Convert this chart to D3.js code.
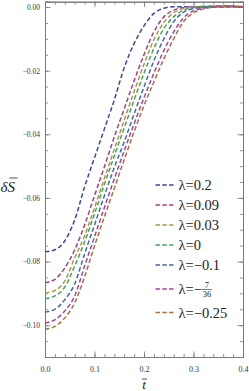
<!DOCTYPE html>
<html>
<head>
<meta charset="utf-8">
<script src="https://cdn.jsdelivr.net/npm/d3@7"></script>
<style>
body { margin: 0; background: #fff; }
svg { display: block; }
text { font-family: "Liberation Serif", "DejaVu Serif", serif; }
</style>
</head>
<body>
<svg id="chart"></svg>
<script>
// lambda values of the seven curves
var lambdas = ["0.2", "0.09", "0.03", "0", "\u22120.1", "\u22127/36", "\u22120.25"];
var colors = ["#4242a6", "#a8427a", "#a89a42", "#42a65a", "#426aa8", "#a842a0", "#a87042"];

// time samples and delta S, one pair per curve
var t_a = [0, 0.02, 0.04, 0.06, 0.08, 0.10, 0.12, 0.14, 0.16, 0.18, 0.20, 0.22, 0.24, 0.26, 0.28, 0.30, 0.34, 0.40];
var s_a = [-0.0769, -0.0763, -0.0735, -0.0669, -0.0565, -0.0474, -0.0383, -0.0292, -0.0191, -0.0115, -0.0059, -0.0020, -0.0004, 0.0001, 0.0001, 0.0000, 0, 0];

var t_b = [0, 0.02, 0.04, 0.06, 0.08, 0.10, 0.12, 0.14, 0.16, 0.18, 0.20, 0.22, 0.24, 0.26, 0.28, 0.30, 0.32, 0.36, 0.40];
var s_b = [-0.0866, -0.0856, -0.0820, -0.0763, -0.0685, -0.0593, -0.0502, -0.0408, -0.0320, -0.0232, -0.0150, -0.0078, -0.0031, -0.0010, -0.0002, 0.0001, 0.0002, 0.0001, 0];

var t_c = [0, 0.02, 0.04, 0.06, 0.08, 0.10, 0.12, 0.14, 0.16, 0.18, 0.20, 0.22, 0.24, 0.26, 0.28, 0.30, 0.32, 0.34, 0.37, 0.40];
var s_c = [-0.0899, -0.0891, -0.0861, -0.0788, -0.0719, -0.0631, -0.0538, -0.0447, -0.0356, -0.0266, -0.0180, -0.0103, -0.0049, -0.0018, -0.0005, -0.0001, 0.0002, 0.0003, 0.0002, 0];

var t_d = [0, 0.02, 0.04, 0.06, 0.08, 0.10, 0.12, 0.14, 0.16, 0.18, 0.20, 0.22, 0.24, 0.26, 0.28, 0.30, 0.32, 0.35, 0.40];
var s_d = [-0.0917, -0.0908, -0.0880, -0.0814, -0.0738, -0.0650, -0.0557, -0.0468, -0.0380, -0.0292, -0.0208, -0.0130, -0.0068, -0.0031, -0.0010, -0.0002, 0.0001, 0.0002, 0];

var t_e = [0, 0.02, 0.04, 0.06, 0.08, 0.10, 0.12, 0.14, 0.16, 0.18, 0.20, 0.22, 0.24, 0.26, 0.28, 0.30, 0.32, 0.34, 0.37, 0.40];
var s_e = [-0.0959, -0.0950, -0.0920, -0.0870, -0.0776, -0.0685, -0.0593, -0.0504, -0.0424, -0.0336, -0.0251, -0.0169, -0.0100, -0.0046, -0.0016, -0.0005, -0.0001, 0.0002, 0.0003, 0];

var t_f = [0, 0.02, 0.04, 0.06, 0.08, 0.10, 0.12, 0.14, 0.16, 0.18, 0.20, 0.22, 0.24, 0.26, 0.28, 0.30, 0.32, 0.34, 0.37, 0.40];
var s_f = [-0.0993, -0.0983, -0.0955, -0.0908, -0.0814, -0.0722, -0.0630, -0.0540, -0.0452, -0.0367, -0.0285, -0.0208, -0.0137, -0.0078, -0.0034, -0.0012, -0.0004, 0, 0.0003, 0.0001];

var t_g = [0, 0.02, 0.04, 0.06, 0.08, 0.10, 0.12, 0.14, 0.16, 0.18, 0.20, 0.22, 0.24, 0.26, 0.28, 0.30, 0.32, 0.34, 0.37, 0.40];
var s_g = [-0.1013, -0.1004, -0.0977, -0.0930, -0.0848, -0.0751, -0.0659, -0.0570, -0.0480, -0.0392, -0.0310, -0.0235, -0.0163, -0.0100, -0.0046, -0.0018, -0.0006, -0.0001, 0.0003, 0.0002];

var times = [t_a, t_b, t_c, t_d, t_e, t_f, t_g];
var values = [s_a, s_b, s_c, s_d, s_e, s_f, s_g];

var xTicks = [0, 0.1, 0.2, 0.3, 0.4];
var yTicks = [0, -0.02, -0.04, -0.06, -0.08, -0.10];

var width = 249, height = 391;
var mLeft = 45, mRight = 243, mTop = 1.7, mBottom = 357;

var svg = d3.select("#chart").attr("width", width).attr("height", height);

var x = d3.scaleLinear().domain([0, 0.4]).range([mLeft, mRight]);
var y = d3.scaleLinear().domain([-0.11, 0.00167]).range([mBottom, mTop]);

svg.append("clipPath").attr("id", "clip")
    .append("rect")
    .attr("x", mLeft).attr("y", mTop)
    .attr("width", mRight - mLeft).attr("height", mBottom - mTop);

// frame with ticks pointing inwards
var frame = "#7a7a7a";
var fmt = function (d) { return d3.format(".2f")(d).replace("-", "\u2212"); };
var xMinor = d3.range(0, 0.4001, 0.02);
var yMinor = d3.range(0, -0.1101, -0.005);

svg.append("g").attr("transform", "translate(0," + mBottom + ")")
    .call(d3.axisBottom(x).tickValues(xMinor).tickSize(-3).tickFormat(""));
svg.append("g").attr("class", "xlab").attr("transform", "translate(0," + mBottom + ")")
    .call(d3.axisBottom(x).tickValues(xTicks).tickSize(-5.5).tickPadding(9).tickFormat(d3.format(".1f")));
svg.append("g").attr("transform", "translate(0," + mTop + ")")
    .call(d3.axisTop(x).tickValues(xMinor).tickSize(-3).tickFormat(""));
svg.append("g").attr("transform", "translate(0," + mTop + ")")
    .call(d3.axisTop(x).tickValues(xTicks).tickSize(-5.5).tickFormat(""));

svg.append("g").attr("transform", "translate(" + mLeft + ",0)")
    .call(d3.axisLeft(y).tickValues(yMinor).tickSize(-3).tickFormat(""));
svg.append("g").attr("class", "ylab").attr("transform", "translate(" + mLeft + ",0)")
    .call(d3.axisLeft(y).tickValues(yTicks).tickSize(-5.5).tickPadding(5).tickFormat(fmt));
svg.append("g").attr("transform", "translate(" + mRight + ",0)")
    .call(d3.axisRight(y).tickValues(yMinor).tickSize(-3).tickFormat(""));
svg.append("g").attr("transform", "translate(" + mRight + ",0)")
    .call(d3.axisRight(y).tickValues(yTicks).tickSize(-5.5).tickFormat(""));

svg.selectAll(".domain").attr("stroke", frame).attr("stroke-width", 1);
svg.selectAll(".tick line").attr("stroke", frame).attr("stroke-width", 0.8);
svg.selectAll(".tick text").attr("fill", "#333")
    .style("font-family", "'Liberation Serif', serif");
svg.selectAll(".xlab .tick text").style("font-size", "8px");
svg.selectAll(".ylab .tick text").style("font-size", "7.5px");

// curves
var line = d3.line()
    .x(function (d) { return x(d[0]); })
    .y(function (d) { return y(d[1]); })
    .curve(d3.curveMonotoneX);

svg.append("g").attr("clip-path", "url(#clip)")
    .selectAll("path")
    .data(values)
    .enter().append("path")
    .attr("d", function (v, i) { return line(d3.zip(times[i], v)); })
    .attr("fill", "none")
    .attr("stroke", function (v, i) { return colors[i]; })
    .attr("stroke-width", 1.5)
    .attr("stroke-dasharray", "4.5,2.5");

// legend
var legendY = [];
var yy = 185;
lambdas.forEach(function (l, i) {
    if (i > 0) yy += 20;
    if (l.indexOf("/") >= 0) yy += 4;
    legendY.push(yy);
    if (l.indexOf("/") >= 0) yy += 3.5;
});

var legend = svg.append("g");
lambdas.forEach(function (l, i) {
    var ly = legendY[i];
    legend.append("line")
        .attr("x1", 155.5).attr("x2", 173.5)
        .attr("y1", ly).attr("y2", ly)
        .attr("stroke", colors[i])
        .attr("stroke-width", 1.5)
        .attr("stroke-dasharray", "4.5,2.3");
    var frac = l.split("/");
    var txt = legend.append("text")
        .attr("x", 178.5).attr("y", ly + 5)
        .attr("fill", "#222")
        .style("font-size", "14.5px");
    if (frac.length > 1) {
        var num = frac[0].match(/[0-9]+$/)[0];
        txt.text("\u03bb=" + frac[0].slice(0, frac[0].length - num.length));
        var w = txt.node().getComputedTextLength();
        var cx = 178.5 + w + 5;
        legend.append("text").attr("x", cx).attr("y", ly - 1.5)
            .attr("text-anchor", "middle").style("font-size", "8.5px").attr("fill", "#222").text(num);
        legend.append("text").attr("x", cx).attr("y", ly + 8)
            .attr("text-anchor", "middle").style("font-size", "8.5px").attr("fill", "#222").text(frac[1]);
        legend.append("line").attr("x1", cx - 5).attr("x2", cx + 5)
            .attr("y1", ly + 0.5).attr("y2", ly + 0.5)
            .attr("stroke", "#222").attr("stroke-width", 0.6);
    } else {
        txt.text("\u03bb=" + l);
    }
});

// axis labels
svg.append("text")
    .attr("x", 0.5).attr("y", 192)
    .style("font-size", "15px").style("font-style", "italic").attr("fill", "#222")
    .text("\u03b4S");
svg.append("line")
    .attr("x1", 9.5).attr("x2", 17.5)
    .attr("y1", 178).attr("y2", 178)
    .attr("stroke", "#222").attr("stroke-width", 0.8);

svg.append("text")
    .attr("x", 144).attr("y", 389)
    .attr("text-anchor", "middle")
    .style("font-size", "13px").style("font-style", "italic").attr("fill", "#222")
    .text("t");
svg.append("line")
    .attr("x1", 142).attr("x2", 147)
    .attr("y1", 379).attr("y2", 379)
    .attr("stroke", "#222").attr("stroke-width", 0.8);
</script>
</body>
</html>
